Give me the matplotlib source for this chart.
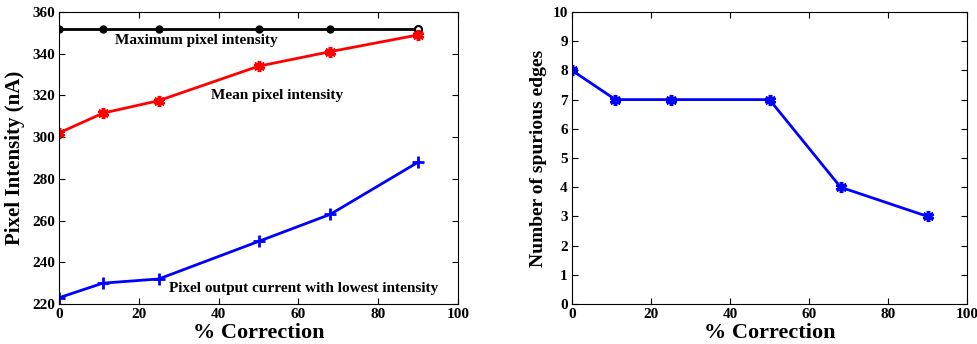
import numpy as np
import matplotlib.pyplot as plt

plt.rcParams['font.family'] = ['Liberation Serif', 'DejaVu Serif']
plt.rcParams['font.weight'] = 'bold'

correction = [0, 11, 25, 50, 68, 90]
max_intensity = [352, 352, 352, 352, 352, 352]
mean_intensity = [302, 311.5, 317.5, 334, 341, 349]
low_intensity = [223, 230, 232, 250, 263, 288]
spurious_edges = [8, 7, 7, 7, 4, 3]

fig = plt.figure(figsize=(9.77, 3.44), dpi=100)
ax1 = fig.add_axes([59/977, 40/344, 399/977, 292/344])
ax2 = fig.add_axes([572/977, 40/344, 395/977, 292/344])

ax1.plot(correction, max_intensity, 'k-', lw=2, marker='o', ms=5)
ax1.plot(correction[-1], max_intensity[-1], 'o', mfc='white', mec='k', mew=1.5, ms=5)
ax1.plot(correction, mean_intensity, 'r-', lw=2, marker=(6, 2, 0), ms=8, mew=2.5)
ax1.plot(correction, low_intensity, 'b-', lw=2, marker='+', ms=9, mew=2)

ax1.text(14, 346.5, 'Maximum pixel intensity', fontsize=11, fontweight='bold', va='center')
ax1.text(38, 320, 'Mean pixel intensity', fontsize=11, fontweight='bold', va='center')
ax1.text(27.5, 227.5, 'Pixel output current with lowest intensity', fontsize=11,
         fontweight='bold', va='center')

ax1.set_xlim(0, 100)
ax1.set_ylim(220, 360)
ax1.set_yticks(np.arange(220, 361, 20))
ax1.set_xlabel('% Correction', fontsize=16, fontweight='bold', labelpad=1)
ax1.set_ylabel('Pixel Intensity (nA)', fontsize=15, fontweight='bold', labelpad=5)

ax2.plot(correction, spurious_edges, 'b-', lw=2, marker=(6, 2, 0), ms=8, mew=2.5)
ax2.set_xlim(0, 100)
ax2.set_ylim(0, 10)
ax2.set_yticks(np.arange(0, 11, 1))
ax2.set_xlabel('% Correction', fontsize=16, fontweight='bold', labelpad=1)
ax2.set_ylabel('Number of spurious edges', fontsize=14, fontweight='bold', labelpad=4)

for ax in (ax1, ax2):
    ax.tick_params(direction='in', top=True, right=True, labelsize=11, length=4, pad=3)
    for lab in ax.get_xticklabels() + ax.get_yticklabels():
        lab.set_fontweight('bold')
    for sp in ax.spines.values():
        sp.set_linewidth(0.8)

fig.savefig('out.png', dpi=100)
